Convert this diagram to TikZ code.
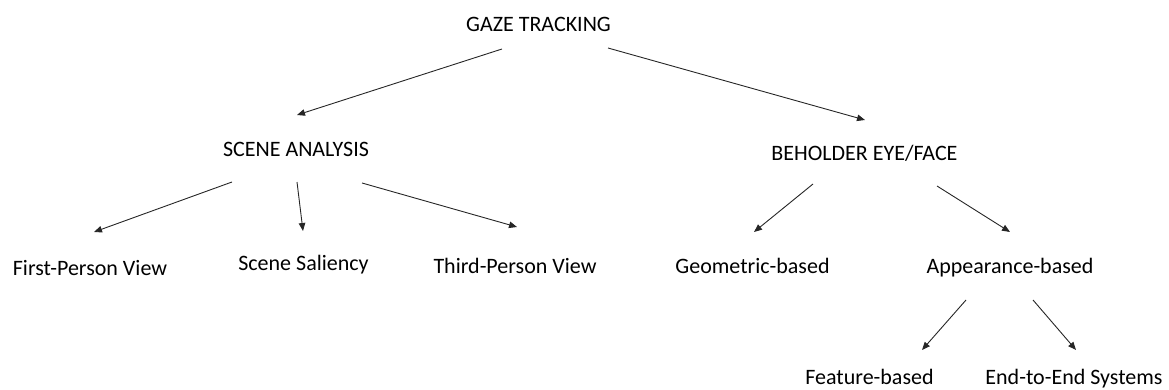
\documentclass[tikz,border=0pt]{standalone}
\usepackage{fontspec}
\setmainfont{Carlito}
\usetikzlibrary{arrows.meta}
\tikzset{
  lbl/.style={anchor=base, inner sep=0pt, font=\fontsize{22}{26}\selectfont, text=black},
  conn/.style={line width=0.9pt, draw=black!85, -{Triangle[length=8pt,width=6.5pt]}}
}
\begin{document}
\begin{tikzpicture}[x=1pt,y=-1pt]
\useasboundingbox (0,0) rectangle (1169,390);
% labels
\node[lbl] (gaze) at (538.5,32) {GAZE TRACKING};
\node[lbl] (scene) at (296,157) {SCENE ANALYSIS};
\node[lbl] (beh) at (864.5,161) {BEHOLDER EYE/FACE};
\node[lbl] (first) at (90,275) {First-Person View};
\node[lbl] (sal) at (303.5,270) {Scene Saliency};
\node[lbl] (third) at (515,273) {Third-Person View};
\node[lbl] (geo) at (752.5,273) {Geometric-based};
\node[lbl] (app) at (1010,273) {Appearance-based};
\node[lbl] (feat) at (869.5,384) {Feature-based};
\node[lbl] (e2e) at (1074,384) {End-to-End Systems};
% connector end points
\coordinate (gs0) at (502,49);   \coordinate (gs1) at (297,115);
\coordinate (gb0) at (608,48);   \coordinate (gb1) at (865,120);
\coordinate (sf0) at (232,182);  \coordinate (sf1) at (94,232);
\coordinate (ss0) at (297,182);  \coordinate (ss1) at (303,231);
\coordinate (st0) at (362,183);  \coordinate (st1) at (517,227);
\coordinate (bg0) at (813,184);  \coordinate (bg1) at (754,232);
\coordinate (ba0) at (937,186);  \coordinate (ba1) at (1010,232);
\coordinate (af0) at (966,300);  \coordinate (af1) at (922,350);
\coordinate (ae0) at (1033,300); \coordinate (ae1) at (1076,350);
% connectors
\draw[conn] (gs0) -- (gs1);
\draw[conn] (gb0) -- (gb1);
\draw[conn] (sf0) -- (sf1);
\draw[conn] (ss0) -- (ss1);
\draw[conn] (st0) -- (st1);
\draw[conn] (bg0) -- (bg1);
\draw[conn] (ba0) -- (ba1);
\draw[conn] (af0) -- (af1);
\draw[conn] (ae0) -- (ae1);
\end{tikzpicture}
\end{document}
